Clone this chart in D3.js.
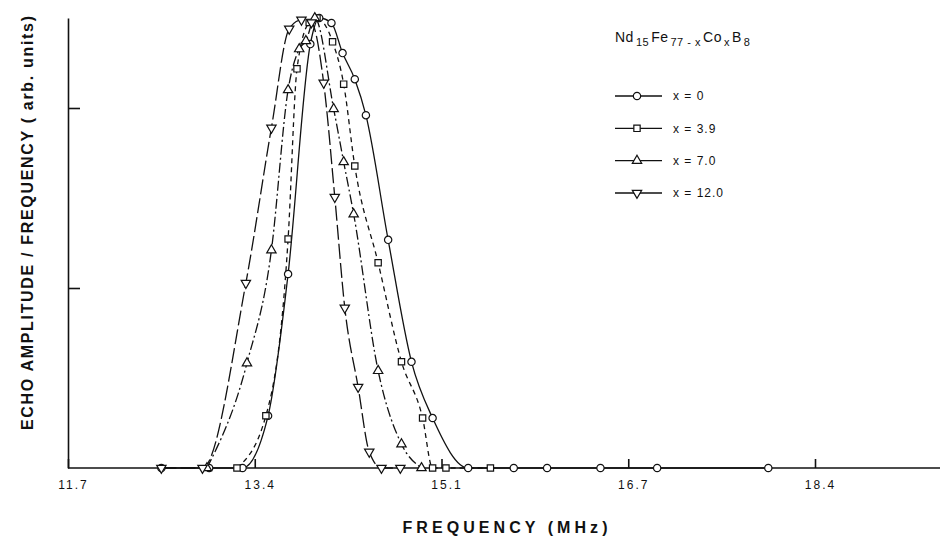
<!DOCTYPE html>
<html>
<head>
<meta charset="utf-8">
<script src="https://cdn.jsdelivr.net/npm/d3@7"></script>
<style>
  html, body { margin: 0; padding: 0; background: #fff; }
  svg { display: block; }
</style>
</head>
<body>
<div id="chart"></div>
<script>
// values: frequency (MHz) and normalised echo amplitude / frequency
var freq0   = [12.54, 12.97, 13.27, 13.50, 13.68, 13.88, 13.96, 14.07, 14.17, 14.28, 14.38, 14.58, 14.79, 14.98, 15.30, 15.71, 16.01, 16.49, 17.00, 18.00];
var amp0    = [0, 0, 0, 0.116, 0.431, 0.942, 1.0, 0.989, 0.922, 0.864, 0.784, 0.507, 0.236, 0.111, 0, 0, 0, 0, 0, 0];

var freq39  = [13.22, 13.48, 13.68, 13.76, 13.87, 13.94, 14.08, 14.18, 14.28, 14.49, 14.70, 14.89, 14.98, 15.10, 15.50];
var amp39   = [0, 0.116, 0.509, 0.887, 0.99, 1.0, 0.947, 0.853, 0.671, 0.456, 0.236, 0.111, 0, 0, 0];

var freq70  = [12.95, 13.31, 13.53, 13.68, 13.78, 13.84, 13.92, 14.09, 14.18, 14.27, 14.49, 14.70, 14.88];
var amp70   = [0, 0.233, 0.484, 0.84, 0.931, 0.949, 1.0, 0.798, 0.68, 0.564, 0.216, 0.053, 0];

var freq120 = [12.54, 12.91, 13.30, 13.53, 13.69, 13.80, 13.89, 14.00, 14.10, 14.19, 14.31, 14.41, 14.52, 14.69];
var amp120  = [0, 0, 0.411, 0.756, 0.976, 0.996, 0.99, 0.856, 0.602, 0.356, 0.18, 0.036, 0, 0];

var seriesNames = ["x = 0", "x = 3.9", "x = 7.0", "x = 12.0"];

var xTicks = [11.7, 13.38, 15.06, 16.74, 18.42];
var xTickLabels = ["11.7", "13.4", "15.1", "16.7", "18.4"];
var yTicks = [0.4, 0.8];

var width = 940,
    height = 538;

var x = d3.scaleLinear()
    .domain([11.7, 18.42])
    .range([68, 815]);

var y = d3.scaleLinear()
    .domain([0, 1])
    .range([468, 18]);

var svg = d3.select("#chart").append("svg")
    .attr("width", width)
    .attr("height", height)
    .style("background", "#fff");

var ink = "#111";

// axes
var xAxis = d3.axisBottom(x)
    .tickValues(xTicks)
    .tickFormat(function(d, i) { return xTickLabels[i]; })
    .tickSizeInner(-9)
    .tickSizeOuter(0)
    .tickPadding(12);

var gx = svg.append("g")
    .attr("transform", "translate(0," + y(0) + ")")
    .call(xAxis);

// extend the baseline to the right edge as in the original
gx.select(".domain").attr("d", "M" + x(11.7) + ",0H" + width);
gx.selectAll("line, path").attr("stroke", ink).attr("stroke-width", 1.6);
gx.selectAll("text")
    .attr("fill", ink)
    .attr("dx", 5)
    .style("font-family", "'Liberation Sans', Arial, sans-serif")
    .style("font-size", "12px")
    .style("letter-spacing", "2px");

var yAxis = d3.axisRight(y)
    .tickValues(yTicks)
    .tickFormat("")
    .tickSizeInner(12)
    .tickSizeOuter(0);

var gy = svg.append("g")
    .attr("transform", "translate(" + x(11.7) + ",0)")
    .call(yAxis);
gy.selectAll("line, path").attr("stroke", ink).attr("stroke-width", 1.6);

// axis titles
svg.append("text")
    .attr("transform", "translate(27,223) rotate(-90)")
    .attr("text-anchor", "middle")
    .attr("dy", "0.35em")
    .attr("textLength", 414)
    .attr("lengthAdjust", "spacing")
    .attr("fill", ink)
    .style("font-family", "'Liberation Sans', Arial, sans-serif")
    .style("font-weight", "bold")
    .style("font-size", "16px")
    .text("ECHO AMPLITUDE / FREQUENCY ( arb. units)");

svg.append("text")
    .attr("x", 505)
    .attr("y", 533)
    .attr("text-anchor", "middle")
    .attr("textLength", 205)
    .attr("lengthAdjust", "spacing")
    .attr("fill", ink)
    .style("font-family", "'Liberation Sans', Arial, sans-serif")
    .style("font-weight", "bold")
    .style("font-size", "16px")
    .text("FREQUENCY (MHz)");

// series
var series = [
    {name: seriesNames[0], f: freq0,   a: amp0,   dash: null,         symbol: d3.symbolCircle,   size: 42, rot: 0},
    {name: seriesNames[1], f: freq39,  a: amp39,  dash: "5,4",        symbol: d3.symbolSquare,   size: 40, rot: 0},
    {name: seriesNames[2], f: freq70,  a: amp70,  dash: "10,3,2,3",   symbol: d3.symbolTriangle, size: 38, rot: 0},
    {name: seriesNames[3], f: freq120, a: amp120, dash: "15,4",       symbol: d3.symbolTriangle, size: 38, rot: 180}
];

series.forEach(function(s) {
    s.points = s.f.map(function(f, i) { return {f: f, a: s.a[i]}; });
});

var line = d3.line()
    .x(function(d) { return x(d.f); })
    .y(function(d) { return y(d.a); })
    .curve(d3.curveMonotoneX);

svg.selectAll(".curve")
    .data(series)
    .enter().append("path")
    .attr("class", "curve")
    .attr("d", function(d) { return line(d.points); })
    .attr("fill", "none")
    .attr("stroke", ink)
    .attr("stroke-width", 1.3)
    .attr("stroke-dasharray", function(d) { return d.dash; });

series.forEach(function(s) {
    var sym = d3.symbol().type(s.symbol).size(s.size);
    svg.selectAll(null)
        .data(s.points)
        .enter().append("path")
        .attr("d", sym)
        .attr("transform", function(d) {
            return "translate(" + x(d.f) + "," + y(d.a) + ") rotate(" + s.rot + ")";
        })
        .attr("fill", "#fff")
        .attr("stroke", ink)
        .attr("stroke-width", 1.2);
});

// legend
var title = svg.append("text")
    .attr("x", 613)
    .attr("y", 42)
    .attr("fill", ink)
    .style("font-family", "'Liberation Sans', Arial, sans-serif")
    .style("font-size", "14px")
    .style("letter-spacing", "0.5px");
var titleParts = [["Nd", 0], ["15", 1], ["Fe", 0], ["77 - x", 1], ["Co", 0], ["x", 1], ["B", 0], ["8", 1]];
var lastSub = 0;
titleParts.forEach(function(p) {
    title.append("tspan")
        .attr("dy", (p[1] - lastSub) * 4)
        .attr("dx", 2)
        .style("font-size", p[1] ? "11px" : "14px")
        .text(p[0]);
    lastSub = p[1];
});

var legendY = d3.scalePoint()
    .domain(seriesNames)
    .range([96, 193]);

var legend = svg.selectAll(".legend")
    .data(series)
    .enter().append("g")
    .attr("class", "legend")
    .attr("transform", function(d) { return "translate(615," + legendY(d.name) + ")"; });

legend.append("line")
    .attr("x1", 0)
    .attr("x2", 47)
    .attr("stroke", ink)
    .attr("stroke-width", 1.3);

legend.append("path")
    .attr("d", function(d) { return d3.symbol().type(d.symbol).size(d.size)(); })
    .attr("transform", function(d) { return "translate(22,0) rotate(" + d.rot + ")"; })
    .attr("fill", "#fff")
    .attr("stroke", ink)
    .attr("stroke-width", 1.2);

legend.append("text")
    .attr("x", 58)
    .attr("dy", "0.35em")
    .attr("fill", ink)
    .style("font-family", "'Liberation Sans', Arial, sans-serif")
    .style("font-size", "12px")
    .style("letter-spacing", "1px")
    .text(function(d) { return d.name; });
</script>
</body>
</html>
